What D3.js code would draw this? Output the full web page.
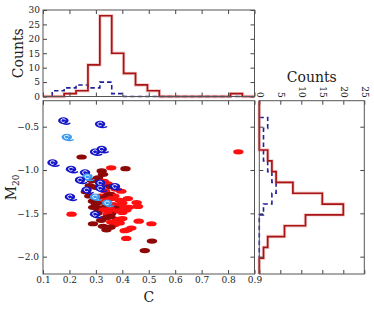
<!DOCTYPE html>
<html><head><meta charset="utf-8">
<script src="https://cdn.jsdelivr.net/npm/d3@7"></script>
<style>
body{margin:0;background:#fff}
svg{display:block}
text{font-family:"DejaVu Serif",serif;fill:#222}
</style>
</head><body>
<svg id="c" width="374" height="309"></svg>
<script>
// ---------- data ----------
const redC = [0.839,0.246,0.358,0.412,0.322,0.327,0.308,0.330,0.285,0.277,0.345,0.396,0.375,0.300,0.262,0.335,0.355,0.356,0.421,0.289,0.454,0.318,0.330,0.370,0.390,0.345,0.320,0.358,0.400,0.275,0.335,0.300,0.459,0.320,0.415,0.340,0.365,0.380,0.310,0.350,0.395,0.330,0.358,0.290,0.400,0.370,0.345,0.425,0.305,0.385,0.208,0.355,0.289,0.371,0.462,0.510,0.340,0.380,0.358,0.400,0.320,0.355,0.390,0.327,0.340,0.434,0.409,0.355,0.420,0.415,0.512,0.485];
const redM = [-0.79,-0.85,-0.975,-0.985,-1.01,-1.05,-1.09,-1.13,-1.12,-1.18,-1.16,-1.245,-1.22,-1.20,-1.25,-1.24,-1.19,-1.28,-1.33,-1.36,-1.375,-1.30,-1.32,-1.30,-1.35,-1.29,-1.37,-1.33,-1.38,-1.30,-1.35,-1.39,-1.42,-1.44,-1.46,-1.42,-1.40,-1.45,-1.47,-1.48,-1.41,-1.46,-1.50,-1.43,-1.49,-1.44,-1.51,-1.43,-1.50,-1.47,-1.51,-1.455,-1.62,-1.63,-1.59,-1.62,-1.55,-1.57,-1.60,-1.56,-1.58,-1.535,-1.61,-1.65,-1.69,-1.67,-1.70,-1.66,-1.69,-1.79,-1.82,-1.93];
const redKind = ["R","D","R","D","D","D","D","R","D","D","R","R","R","D","D","R","D","D","R","D","R","R","D","R","R","D","D","R","R","D","R","D","R","D","R","D","R","R","D","D","R","R","D","D","R","D","R","R","D","R","R","R","D","R","R","R","D","R","R","R","D","D","R","D","D","R","R","D","R","R","D","D"];

const blueC = [0.177,0.316,0.190,0.297,0.322,0.136,0.206,0.259,0.268,0.240,0.316,0.265,0.316,0.372,0.202,0.297,0.343,0.297];
const blueM = [-0.43,-0.47,-0.62,-0.79,-0.76,-0.915,-0.99,-1.03,-1.08,-1.115,-1.15,-1.23,-1.21,-1.19,-1.31,-1.31,-1.38,-1.51];
const blueKind = ["D","D","L","D","D","D","D","D","L","D","D","D","D","D","D","L","L","D"];

// histogram of C (top panel)
const cEdges = [0.135,0.180,0.225,0.270,0.315,0.360,0.405,0.450,0.495,0.540,0.584,0.629,0.674,0.719,0.764,0.809,0.854];
const cRedCounts  = [0,1,2,11,28,15,8,4,2,0,0,0,0,0,0,1];
const cBlueCounts = [2,3,4,3,5,1,0,0,0,0,0,0,0,0,0,0];

// histogram of M20 (right panel)
const mEdges = [-0.394,-0.519,-0.644,-0.769,-0.894,-1.018,-1.143,-1.268,-1.393,-1.518,-1.643,-1.768,-1.893,-2.018];
const mRedCounts  = [0,0,0,2,3,4,8,15,20,11,6,2,1];
const mBlueCounts = [2,1,1,1,2,3,4,3,1,0,0,0,0];

const xTicks = [0.1,0.2,0.3,0.4,0.5,0.6,0.7,0.8,0.9];
const yTicks = [-0.5,-1.0,-1.5,-2.0];
const countTicksTop = [0,5,10,15,20,25,30];
const countTicksRight = [0,5,10,15,20,25];

// ---------- layout ----------
const svg = d3.select("#c");
const main = {l:43, r:254.5, t:100.7, b:274};
const topP = {l:43, r:254.5, t:10, b:96.5};
const rightP = {l:259.3, r:364.3, t:100.7, b:274};

const x = d3.scaleLinear().domain([0.1,0.9]).range([main.l, main.r]);
const y = d3.scaleLinear().domain([-2.2,-0.2]).range([main.b, main.t]);
const yc = d3.scaleLinear().domain([0,30]).range([topP.b, topP.t]);
const xc = d3.scaleLinear().domain([0,25]).range([rightP.l, rightP.r]);

const colors = {R:"#ff1010", D:"#8e0808", blueD:"#1515c8", blueL:"#3a9af0"};
const redLine = "#a81414", blueLine = "#20209a";

function styleAxis(g){
  g.select(".domain").remove();
  g.selectAll(".tick line").attr("stroke","#444");
  g.selectAll(".tick text").attr("font-size","9px").attr("fill","#222").attr("font-family","DejaVu Serif, serif");
}
function frame(p){
  svg.append("rect").attr("x",p.l).attr("y",p.t).attr("width",p.r-p.l).attr("height",p.b-p.t)
    .attr("fill","none").attr("stroke","#555").attr("stroke-width",1);
}

// ---------- main scatter ----------
const gm = svg.append("g");
// clip
svg.append("clipPath").attr("id","mclip").append("rect")
  .attr("x",main.l).attr("y",main.t).attr("width",main.r-main.l).attr("height",main.b-main.t);
const pts = gm.append("g").attr("clip-path","url(#mclip)");

redC.forEach((c,i)=>{
  pts.append("ellipse").attr("cx",x(c)).attr("cy",y(redM[i])).attr("rx",5.2).attr("ry",2.6)
    .attr("fill",colors[redKind[i]]);
});
blueC.forEach((c,i)=>{
  const col = blueKind[i]==="L"?colors.blueL:colors.blueD;
  const g = pts.append("g").attr("transform",`translate(${x(c)},${y(blueM[i])})`);
  g.append("path").attr("d","M-1.5,2.6 Q3,4.6 7,2.4").attr("fill","none").attr("stroke",col).attr("stroke-width",1.4);
  g.append("ellipse").attr("rx",5.2).attr("ry",3.4).attr("fill",col);
  g.append("path").attr("d","M2.2,-0.4 A2.3,1.8 0 1 0 1.4,1.3").attr("fill","none").attr("stroke","#fff").attr("stroke-width",0.9);
});

svg.append("g").attr("transform",`translate(0,${main.b})`)
  .call(d3.axisBottom(x).tickValues(xTicks).tickFormat(d3.format(".1f")).tickSizeInner(-4).tickSizeOuter(0).tickPadding(3))
  .call(styleAxis);
svg.append("g").attr("transform",`translate(0,${main.t})`)
  .call(d3.axisTop(x).tickValues(xTicks).tickFormat("").tickSizeInner(-4).tickSizeOuter(0))
  .call(styleAxis);
svg.append("g").attr("transform",`translate(${main.l},0)`)
  .call(d3.axisLeft(y).tickValues(yTicks).tickFormat(d3.format(".1f")).tickSizeInner(-4).tickSizeOuter(0).tickPadding(4))
  .call(styleAxis);
svg.append("g").attr("transform",`translate(${main.r},0)`)
  .call(d3.axisRight(y).tickValues(yTicks).tickFormat("").tickSizeInner(-4).tickSizeOuter(0))
  .call(styleAxis);
frame(main);

svg.append("text").attr("x",(main.l+main.r)/2).attr("y",302).attr("text-anchor","middle")
  .attr("font-size","14px").text("C");
const yl = svg.append("text").attr("transform",`translate(16,${(main.t+main.b)/2}) rotate(-90)`)
  .attr("text-anchor","middle").attr("font-size","14px");
yl.append("tspan").text("M");
yl.append("tspan").attr("font-size","9px").attr("dy","3").text("20");

// ---------- top histogram ----------
function stepH(edges, counts, ext){
  const pts=[];
  if(ext) pts.push([x.domain()[0],0]);
  pts.push([edges[0],0]);
  counts.forEach((c,i)=>{pts.push([edges[i],c]);pts.push([edges[i+1],c]);});
  pts.push([edges[edges.length-1],0]);
  if(ext) pts.push([x.domain()[1],0]);
  return d3.line().x(d=>x(d[0])).y(d=>yc(d[1]))(pts);
}
function stepV(edges, counts, ext){
  const pts=[];
  if(ext) pts.push([0,y.domain()[1]]);
  pts.push([0,edges[0]]);
  counts.forEach((c,i)=>{pts.push([c,edges[i]]);pts.push([c,edges[i+1]]);});
  pts.push([0,edges[edges.length-1]]);
  if(ext) pts.push([0,y.domain()[0]]);
  return d3.line().x(d=>xc(d[0])).y(d=>y(d[1]))(pts);
}

svg.append("path").attr("d",stepH(cEdges,cBlueCounts,false)).attr("fill","none")
  .attr("stroke",blueLine).attr("stroke-width",1.6).attr("stroke-dasharray","4.5,3");
svg.append("path").attr("d",stepH(cEdges,cRedCounts,true)).attr("fill","none")
  .attr("stroke","rgba(220,110,110,0.35)").attr("stroke-width",3.4);
svg.append("path").attr("d",stepH(cEdges,cRedCounts,true)).attr("fill","none")
  .attr("stroke",redLine).attr("stroke-width",1.7);

svg.append("g").attr("transform",`translate(${topP.l},0)`)
  .call(d3.axisLeft(yc).tickValues(countTicksTop).tickFormat(d3.format("d")).tickSizeInner(-4).tickSizeOuter(0).tickPadding(3))
  .call(styleAxis);
svg.append("g").attr("transform",`translate(${topP.r},0)`)
  .call(d3.axisRight(yc).tickValues(countTicksTop).tickFormat("").tickSizeInner(-4).tickSizeOuter(0))
  .call(styleAxis);
svg.append("g").attr("transform",`translate(0,${topP.b})`)
  .call(d3.axisBottom(x).tickValues(xTicks).tickFormat("").tickSizeInner(-4).tickSizeOuter(0))
  .call(styleAxis);
svg.append("g").attr("transform",`translate(0,${topP.t})`)
  .call(d3.axisTop(x).tickValues(xTicks).tickFormat("").tickSizeInner(-4).tickSizeOuter(0))
  .call(styleAxis);
frame(topP);
svg.append("text").attr("transform",`translate(23,${(topP.t+topP.b)/2}) rotate(-90)`)
  .attr("text-anchor","middle").attr("font-size","14px").text("Counts");

// ---------- right histogram ----------
svg.append("path").attr("d",stepV(mEdges,mBlueCounts,false)).attr("fill","none")
  .attr("stroke",blueLine).attr("stroke-width",1.6).attr("stroke-dasharray","4.5,3");
svg.append("path").attr("d",stepV(mEdges,mRedCounts,true)).attr("fill","none")
  .attr("stroke","rgba(220,110,110,0.35)").attr("stroke-width",3.4);
svg.append("path").attr("d",stepV(mEdges,mRedCounts,true)).attr("fill","none")
  .attr("stroke",redLine).attr("stroke-width",1.7);

const rt = svg.append("g").attr("transform",`translate(0,${rightP.t})`)
  .call(d3.axisTop(xc).tickValues(countTicksRight).tickFormat(d3.format("d")).tickSizeInner(-4).tickSizeOuter(0).tickPadding(3))
  .call(styleAxis);
rt.selectAll(".tick text").attr("transform","translate(0,-3) rotate(90)").attr("text-anchor","end")
  .attr("dy","0.35em").attr("y",0).attr("x",0);
svg.append("g").attr("transform",`translate(0,${rightP.b})`)
  .call(d3.axisBottom(xc).tickValues(countTicksRight).tickFormat("").tickSizeInner(-4).tickSizeOuter(0))
  .call(styleAxis);
svg.append("g").attr("transform",`translate(${rightP.l},0)`)
  .call(d3.axisLeft(y).tickValues(yTicks).tickFormat("").tickSizeInner(-4).tickSizeOuter(0))
  .call(styleAxis);
svg.append("g").attr("transform",`translate(${rightP.r},0)`)
  .call(d3.axisRight(y).tickValues(yTicks).tickFormat("").tickSizeInner(-4).tickSizeOuter(0))
  .call(styleAxis);
frame(rightP);
svg.append("text").attr("x",(rightP.l+rightP.r)/2).attr("y",82).attr("text-anchor","middle")
  .attr("font-size","14px").text("Counts");
</script>
</body></html>
